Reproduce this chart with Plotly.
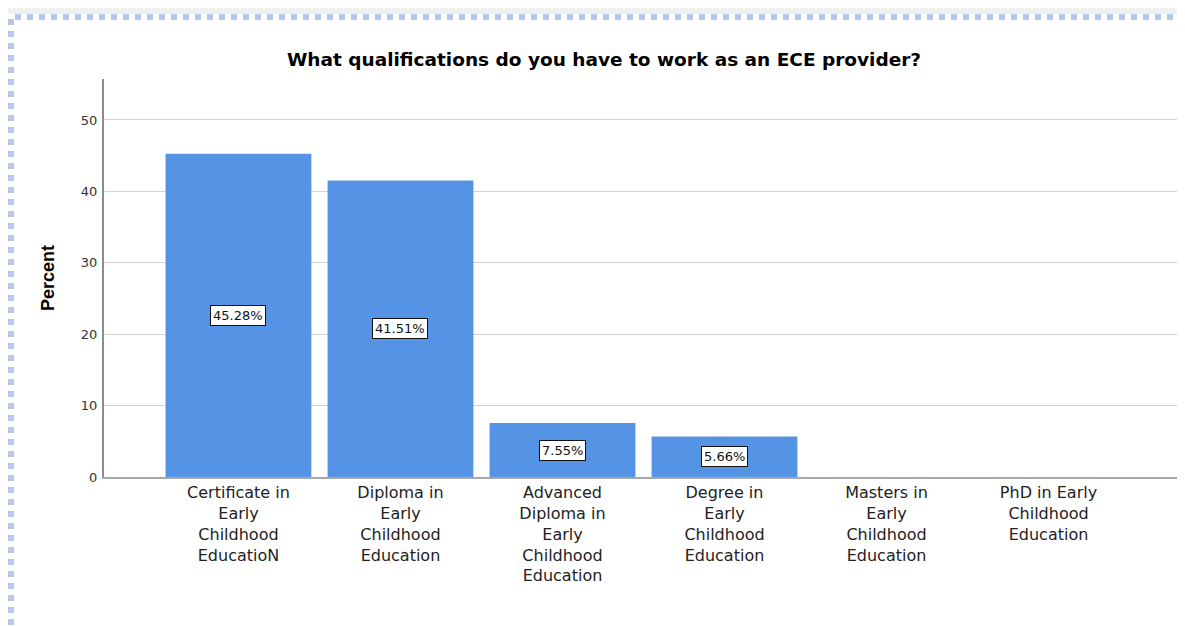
import plotly.graph_objects as go

# ---- data ----
categories = [
    "Certificate in Early Childhood EducatioN",
    "Diploma in Early Childhood Education",
    "Advanced Diploma in Early Childhood Education",
    "Degree in Early Childhood Education",
    "Masters in Early Childhood Education",
    "PhD in Early Childhood Education",
]
tick_labels = [
    "Certificate in<br>Early<br>Childhood<br>EducatioN",
    "Diploma in<br>Early<br>Childhood<br>Education",
    "Advanced<br>Diploma in<br>Early<br>Childhood<br>Education",
    "Degree in<br>Early<br>Childhood<br>Education",
    "Masters in<br>Early<br>Childhood<br>Education",
    "PhD in Early<br>Childhood<br>Education",
]
percent = [45.28, 41.51, 7.55, 5.66, 0, 0]
y_ticks = [0, 10, 20, 30, 40, 50]

title_text = "What qualifications do you have to work as an ECE provider?"
y_title = "Percent"

# ---- geometry (pixels, page coordinates; page body has an 8px margin) ----
OFF = 8
PAGE_W, PAGE_H = 1185, 626
W, H = PAGE_W - OFF, PAGE_H - OFF
L, R, T, B = 104 - OFF, 3, 79 - OFF, 149
PW, PH = W - L - R, H - T - B


def px_x(p):  # page pixel -> paper x
    return (p - OFF - L) / PW


def px_y(p):  # page pixel -> paper y
    return (H - B - (p - OFF)) / PH


BAR_COLOR = "#5594e4"
FONT = "DejaVu Sans, Verdana, Liberation Sans, sans-serif"

fig = go.Figure()
fig.add_trace(
    go.Bar(
        x=categories,
        y=percent,
        width=0.9,
        marker=dict(color=BAR_COLOR, line=dict(width=0)),
        hoverinfo="x+y",
        showlegend=False,
    )
)

annotations = []
for c, v in zip(categories, percent):
    if v > 0:
        annotations.append(
            dict(
                x=c, y=v / 2, xref="x", yref="y",
                text=f"{v:.2f}%", showarrow=False,
                font=dict(family=FONT, size=13, color="#111111"),
                bgcolor="white", bordercolor="#111111", borderwidth=1, borderpad=2,
                xanchor="center", yanchor="middle",
            )
        )

annotations.append(
    dict(
        x=px_x(48), y=px_y(278), xref="paper", yref="paper",
        text=f"<b>{y_title}</b>", textangle=-90, showarrow=False,
        font=dict(family="Liberation Sans, Arial, sans-serif", size=18, color="#000000"),
        xanchor="center", yanchor="middle",
    )
)

shapes = []
# top shadow band
shapes.append(dict(type="rect", xref="paper", yref="paper",
                   x0=px_x(0), x1=px_x(PAGE_W), y0=px_y(OFF), y1=px_y(14),
                   fillcolor="#f1f1f1", line=dict(width=0), layer="below"))
# dotted frame
shapes.append(dict(type="line", xref="paper", yref="paper",
                   x0=px_x(15), x1=px_x(PAGE_W), y0=px_y(17), y1=px_y(17),
                   line=dict(color="#b4c9ec", width=6, dash="6px,6px")))
shapes.append(dict(type="line", xref="paper", yref="paper",
                   x0=px_x(11), x1=px_x(11), y0=px_y(19), y1=px_y(PAGE_H),
                   line=dict(color="#b4c9ec", width=6, dash="6px,6px")))

fig.update_layout(
    width=W, height=H,
    margin=dict(l=L, r=R, t=T, b=B, pad=0),
    paper_bgcolor="white", plot_bgcolor="white",
    title=dict(
        text=f"<b>{title_text}</b>",
        x=(604 - OFF) / W, xref="container", xanchor="center",
        y=1 - (60 - OFF) / H, yref="container", yanchor="middle",
        font=dict(family=FONT, size=18.5, color="#000000"),
    ),
    bargap=0.1,
    annotations=annotations,
    shapes=shapes,
    showlegend=False,
)

fig.update_xaxes(
    type="category",
    range=[-0.83, 5.824],
    tickvals=categories, ticktext=tick_labels,
    tickfont=dict(family=FONT, size=16, color="#222222"),
    showline=True, linecolor="#a8a8a8", linewidth=2,
    showgrid=False, ticks="", zeroline=False,
)
fig.update_yaxes(
    range=[0, 55.74],
    tickvals=y_ticks,
    tickfont=dict(family=FONT, size=13, color="#333333"),
    showline=True, linecolor="#8c8c8c", linewidth=2,
    showgrid=True, gridcolor="#d2d2d2", gridwidth=1,
    ticks="", zeroline=False, ticklabelstandoff=2,
)

fig.write_html("out.html")
